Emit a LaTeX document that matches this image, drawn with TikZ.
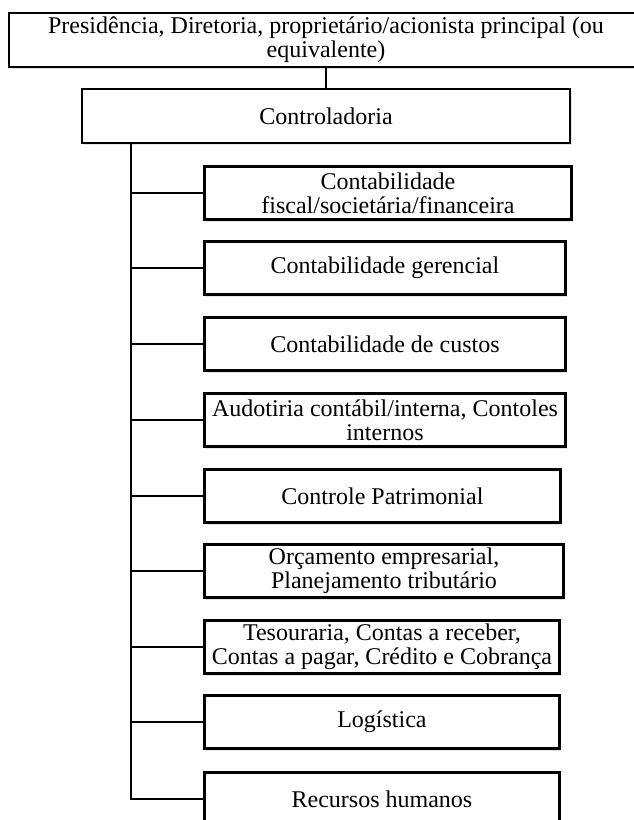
\documentclass[tikz,border=0pt]{standalone}
\usepackage{fontspec}
\setmainfont{Liberation Serif}
\usetikzlibrary{positioning, shadows}

\begin{document}
\begin{tikzpicture}[x=0.75pt, y=-0.75pt,
    unit/.style={draw, line width=2.2pt, fill=white, align=center, inner sep=2pt,
      font=\fontsize{18}{18}\selectfont, minimum height=39.75pt,
      drop shadow={shadow xshift=1.5pt, shadow yshift=-1.8pt, opacity=0.18, fill=black!60}},
    subunit/.style={unit, anchor=north west},
    link/.style={line width=2.2pt}]
  \useasboundingbox (0,0) rectangle (633,820);

  % top of the chart
  \node[unit, minimum width=475.5pt, minimum height=40.5pt] (presid) at (326,40)
    {Presidência, Diretoria, proprietário/acionista principal (ou\\equivalente)};
  \node[unit, minimum width=366pt, minimum height=40.5pt] (ctrl) at (326,116) {Controladoria};

  % areas under the controladoria
  \node[subunit, minimum width=275.25pt] (c1) at (203,165) {Contabilidade\\fiscal/societária/financeira};
  \node[subunit, minimum width=270.75pt] (c2) at (203,240) {Contabilidade gerencial};
  \node[subunit, minimum width=270.75pt] (c3) at (203,316) {Contabilidade de custos};
  \node[subunit, minimum width=270.75pt] (c4) at (203,392) {Audotiria contábil/interna, Contoles\\internos};
  \node[subunit, minimum width=267pt] (c5) at (203,468) {Controle Patrimonial};
  \node[subunit, minimum width=269.25pt] (c6) at (203,543) {Orçamento empresarial,\\Planejamento tributário};
  \node[subunit, minimum width=266.25pt] (c7) at (203,619) {Tesouraria, Contas a receber,\\Contas a pagar, Crédito e Cobrança};
  \node[subunit, minimum width=266.25pt] (c8) at (203,694) {Logística};
  \node[subunit, minimum width=266.25pt] (c9) at (203,771) {Recursos humanos};

  % connectors
  \coordinate (trunk) at (131,0);
  \draw[link] (presid.south) -- (ctrl.north);
  \draw[link] (ctrl.south -| trunk) |- (c9.west);
  \foreach \i in {1,...,8}
    \draw[link] (c\i.west) -- (c\i.west -| trunk);
\end{tikzpicture}
\end{document}
